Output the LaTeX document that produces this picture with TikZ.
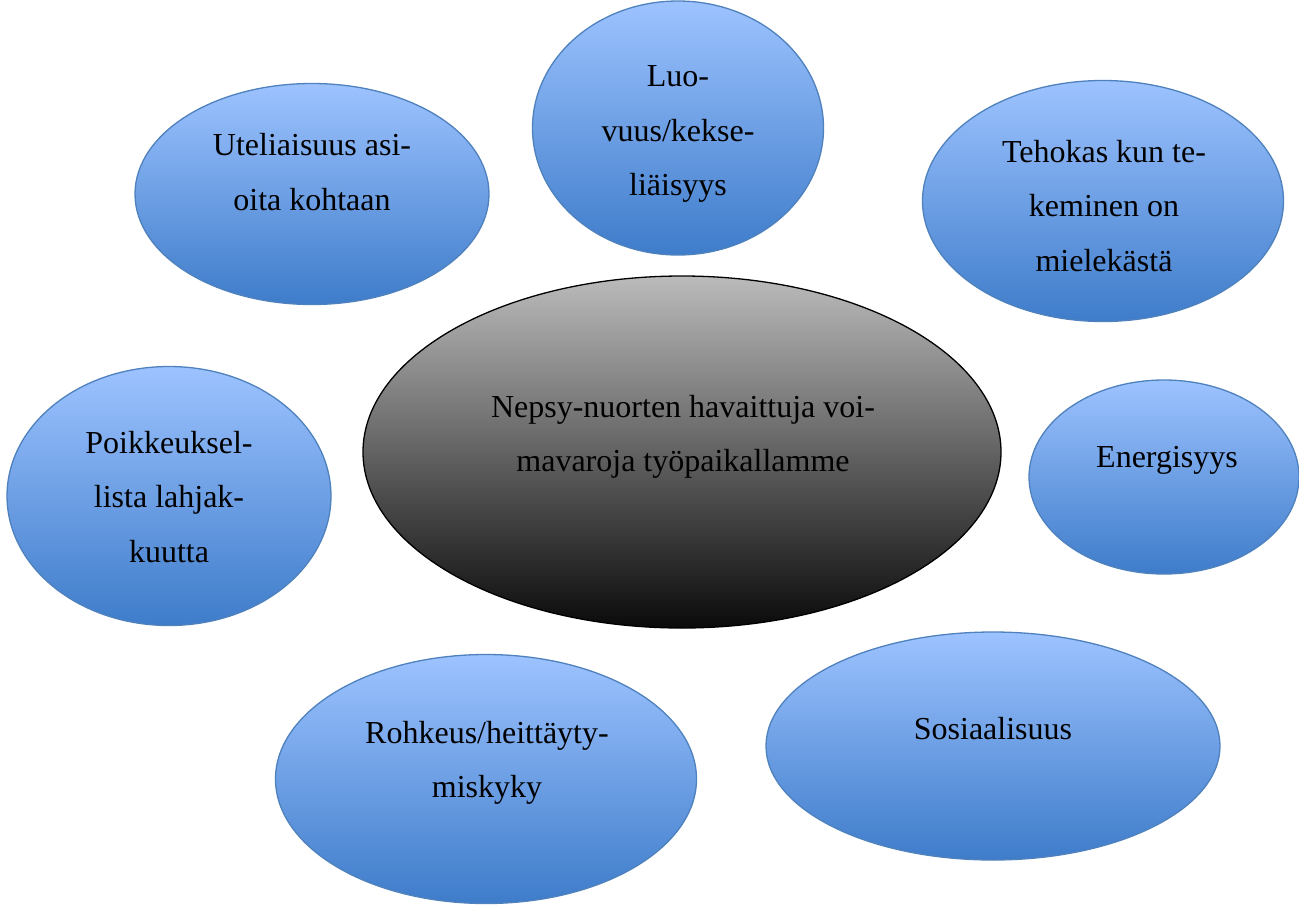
\documentclass[tikz,border=0pt]{standalone}
\usepackage{fontspec}
\setmainfont{Liberation Serif}
\usetikzlibrary{shapes.geometric}
\definecolor{blueTop}{HTML}{9DC3FF}
\definecolor{blueBot}{HTML}{3E7CCA}
\definecolor{blueLine}{HTML}{4F81BD}
\definecolor{greyTop}{HTML}{BBBBBB}
\definecolor{greyBot}{HTML}{0A0A0A}
\tikzset{
  bubble/.style={ellipse, draw=blueLine, line width=1.3pt, top color=blueTop, bottom color=blueBot, inner sep=0pt},
  hub/.style={ellipse, draw=black, line width=1.3pt, top color=greyTop, bottom color=greyBot, inner sep=0pt},
  lbl/.style={align=center, font=\fontsize{32}{54.5}\selectfont, text=black, inner sep=0pt}
}
\begin{document}
\begin{tikzpicture}[x=1pt,y=-1pt]
\useasboundingbox (0,0) rectangle (1299,906);
\node[bubble, minimum width=354pt, minimum height=221pt] (ut) at (312,194) {};
\node[bubble, minimum width=291pt, minimum height=254pt] (lu) at (678,128) {};
\node[bubble, minimum width=361pt, minimum height=241pt] (te) at (1103,201) {};
\node[hub, minimum width=638pt, minimum height=352pt] (hb) at (682,452) {};
\node[bubble, minimum width=324pt, minimum height=259pt] (po) at (169,496) {};
\node[bubble, minimum width=270pt, minimum height=194pt] (en) at (1164,477) {};
\node[bubble, minimum width=421pt, minimum height=249pt] (ro) at (486,779) {};
\node[bubble, minimum width=454pt, minimum height=228pt] (so) at (993,746) {};

\node[lbl] (utT) at (312,172) {Uteliaisuus asi-\\oita kohtaan};
\node[lbl] (luT) at (678,134) {Luo-\\vuus/kekse-\\liäisyys};
\node[lbl] (teT) at (1104,206) {Tehokas kun te-\\keminen on\\mielekästä};
\node[lbl] (hbT) at (683,437) {Nepsy-nuorten havaittuja voi-\\mavaroja työpaikallamme};
\node[lbl] (poT) at (169,497) {Poikkeuksel-\\lista lahjak-\\kuutta};
\node[lbl] (enT) at (1167,460) {Energisyys};
\node[lbl] (roT) at (487,763) {Rohkeus/heittäyty-\\miskyky};
\node[lbl] (soT) at (993,729) {Sosiaalisuus};
\end{tikzpicture}
\end{document}
